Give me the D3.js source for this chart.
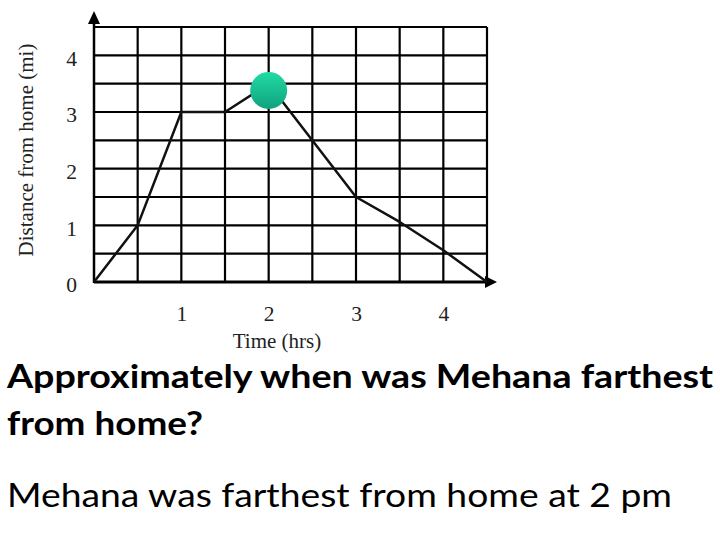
<!DOCTYPE html>
<html>
<head>
<meta charset="utf-8">
<script src="https://cdn.jsdelivr.net/npm/d3@7"></script>
<style>
  body { margin: 0; background: #fff; }
  svg { display: block; }
</style>
</head>
<body>
<svg id="chart"></svg>
<script>
// trip: hours since leaving vs miles from home
let hours = [0, 0.5, 1, 1.5, 2, 3, 3.5, 4, 4.5];
let miles = [0, 1, 3, 3, 3.5, 1.5, 1.06, 0.56, 0];

let xTicks = [1, 2, 3, 4];
let yTicks = [0, 1, 2, 3, 4];

// farthest point marker
let peakHour = 2;
let peakMiles = 3.38;

let question = ['Approximately when was Mehana farthest', 'from home?'];
let answer = 'Mehana was farthest from home at 2 pm';

const width = 720;
const height = 540;

let svg = d3.select('#chart')
    .attr('width', width)
    .attr('height', height);

let xScale = d3.scaleLinear().domain([0, 4.5]).range([94, 487]);
let yScale = d3.scaleLinear().domain([0, 4.5]).range([282, 27]);

let defs = svg.append('defs');
let grad = defs.append('linearGradient')
    .attr('id', 'ball')
    .attr('x1', 0).attr('y1', 0).attr('x2', 0).attr('y2', 1);
grad.append('stop').attr('offset', '0%').attr('stop-color', '#22dba3');
grad.append('stop').attr('offset', '100%').attr('stop-color', '#10a27f');

// grid every half unit
let halfSteps = d3.range(0.5, 4.51, 0.5);

svg.append('g')
    .selectAll('line')
    .data(halfSteps)
    .enter()
    .append('line')
    .attr('x1', d => xScale(d))
    .attr('x2', d => xScale(d))
    .attr('y1', yScale(0))
    .attr('y2', yScale(4.5))
    .attr('stroke', '#000')
    .attr('stroke-width', 2.2);

svg.append('g')
    .selectAll('line')
    .data(halfSteps)
    .enter()
    .append('line')
    .attr('x1', xScale(0))
    .attr('x2', xScale(4.5))
    .attr('y1', d => yScale(d))
    .attr('y2', d => yScale(d))
    .attr('stroke', '#000')
    .attr('stroke-width', 2.2);

// axis lines with arrow heads
svg.append('line')
    .attr('x1', xScale(0)).attr('x2', xScale(0))
    .attr('y1', yScale(0) + 1).attr('y2', 22)
    .attr('stroke', '#000').attr('stroke-width', 2.5);
svg.append('path')
    .attr('d', 'M' + xScale(0) + ',11 L' + (xScale(0) - 6) + ',24 L' + (xScale(0) + 6) + ',24 Z')
    .attr('fill', '#000');

svg.append('line')
    .attr('x1', xScale(0)).attr('x2', xScale(4.5))
    .attr('y1', yScale(0)).attr('y2', yScale(0))
    .attr('stroke', '#000').attr('stroke-width', 3);
svg.append('path')
    .attr('d', 'M' + (xScale(4.5) + 10) + ',' + yScale(0) + ' L' + (xScale(4.5) - 2) + ',' + (yScale(0) - 6) +
        ' L' + (xScale(4.5) - 2) + ',' + (yScale(0) + 6) + ' Z')
    .attr('fill', '#000');

// tick labels
let xAxis = d3.axisBottom(xScale).tickValues(xTicks).tickSize(0).tickPadding(24).tickFormat(d3.format('d'));
let gx = svg.append('g')
    .attr('transform', 'translate(0,' + yScale(0) + ')')
    .call(xAxis);
gx.select('.domain').remove();
gx.selectAll('text')
    .attr('font-family', '"Liberation Serif", "Times New Roman", serif')
    .attr('font-size', 21.5)
    .attr('fill', '#222');

let yAxis = d3.axisLeft(yScale).tickValues(yTicks).tickSize(0).tickPadding(17).tickFormat(d3.format('d'));
let gy = svg.append('g')
    .attr('transform', 'translate(' + xScale(0) + ',0)')
    .call(yAxis);
gy.select('.domain').remove();
gy.selectAll('text')
    .attr('dy', '0.45em')
    .attr('font-family', '"Liberation Serif", "Times New Roman", serif')
    .attr('font-size', 21.5)
    .attr('fill', '#222');

// axis titles
svg.append('text')
    .attr('x', 277)
    .attr('y', 348)
    .attr('text-anchor', 'middle')
    .attr('font-family', '"Liberation Serif", "Times New Roman", serif')
    .attr('font-size', 21)
    .attr('fill', '#222')
    .text('Time (hrs)');

svg.append('text')
    .attr('transform', 'translate(33,150) rotate(-90)')
    .attr('text-anchor', 'middle')
    .attr('font-family', '"Liberation Serif", "Times New Roman", serif')
    .attr('font-size', 21)
    .attr('fill', '#222')
    .text('Distance from home (mi)');

// the trip
let trip = hours.map((h, i) => [h, miles[i]]);
let line = d3.line()
    .x(d => xScale(d[0]))
    .y(d => yScale(d[1]));

svg.append('path')
    .datum(trip)
    .attr('d', line)
    .attr('fill', 'none')
    .attr('stroke', '#111')
    .attr('stroke-width', 2.5)
    .attr('stroke-linejoin', 'round');

svg.append('circle')
    .attr('cx', xScale(peakHour))
    .attr('cy', yScale(peakMiles))
    .attr('r', 18.5)
    .attr('fill', 'url(#ball)');

// question and answer
svg.append('text')
    .attr('x', 7).attr('y', 388)
    .attr('font-family', 'Lato, "Open Sans", sans-serif')
    .attr('font-weight', 'bold')
    .attr('font-size', 32)
    .attr('textLength', 706)
    .attr('lengthAdjust', 'spacingAndGlyphs')
    .text(question[0]);

svg.append('text')
    .attr('x', 7).attr('y', 435)
    .attr('font-family', 'Lato, "Open Sans", sans-serif')
    .attr('font-weight', 'bold')
    .attr('font-size', 32)
    .attr('textLength', 196)
    .attr('lengthAdjust', 'spacingAndGlyphs')
    .text(question[1]);

svg.append('text')
    .attr('x', 7).attr('y', 507)
    .attr('font-family', 'Lato, "Open Sans", sans-serif')
    .attr('font-size', 32)
    .attr('textLength', 665)
    .attr('lengthAdjust', 'spacingAndGlyphs')
    .text(answer);
</script>
</body>
</html>
